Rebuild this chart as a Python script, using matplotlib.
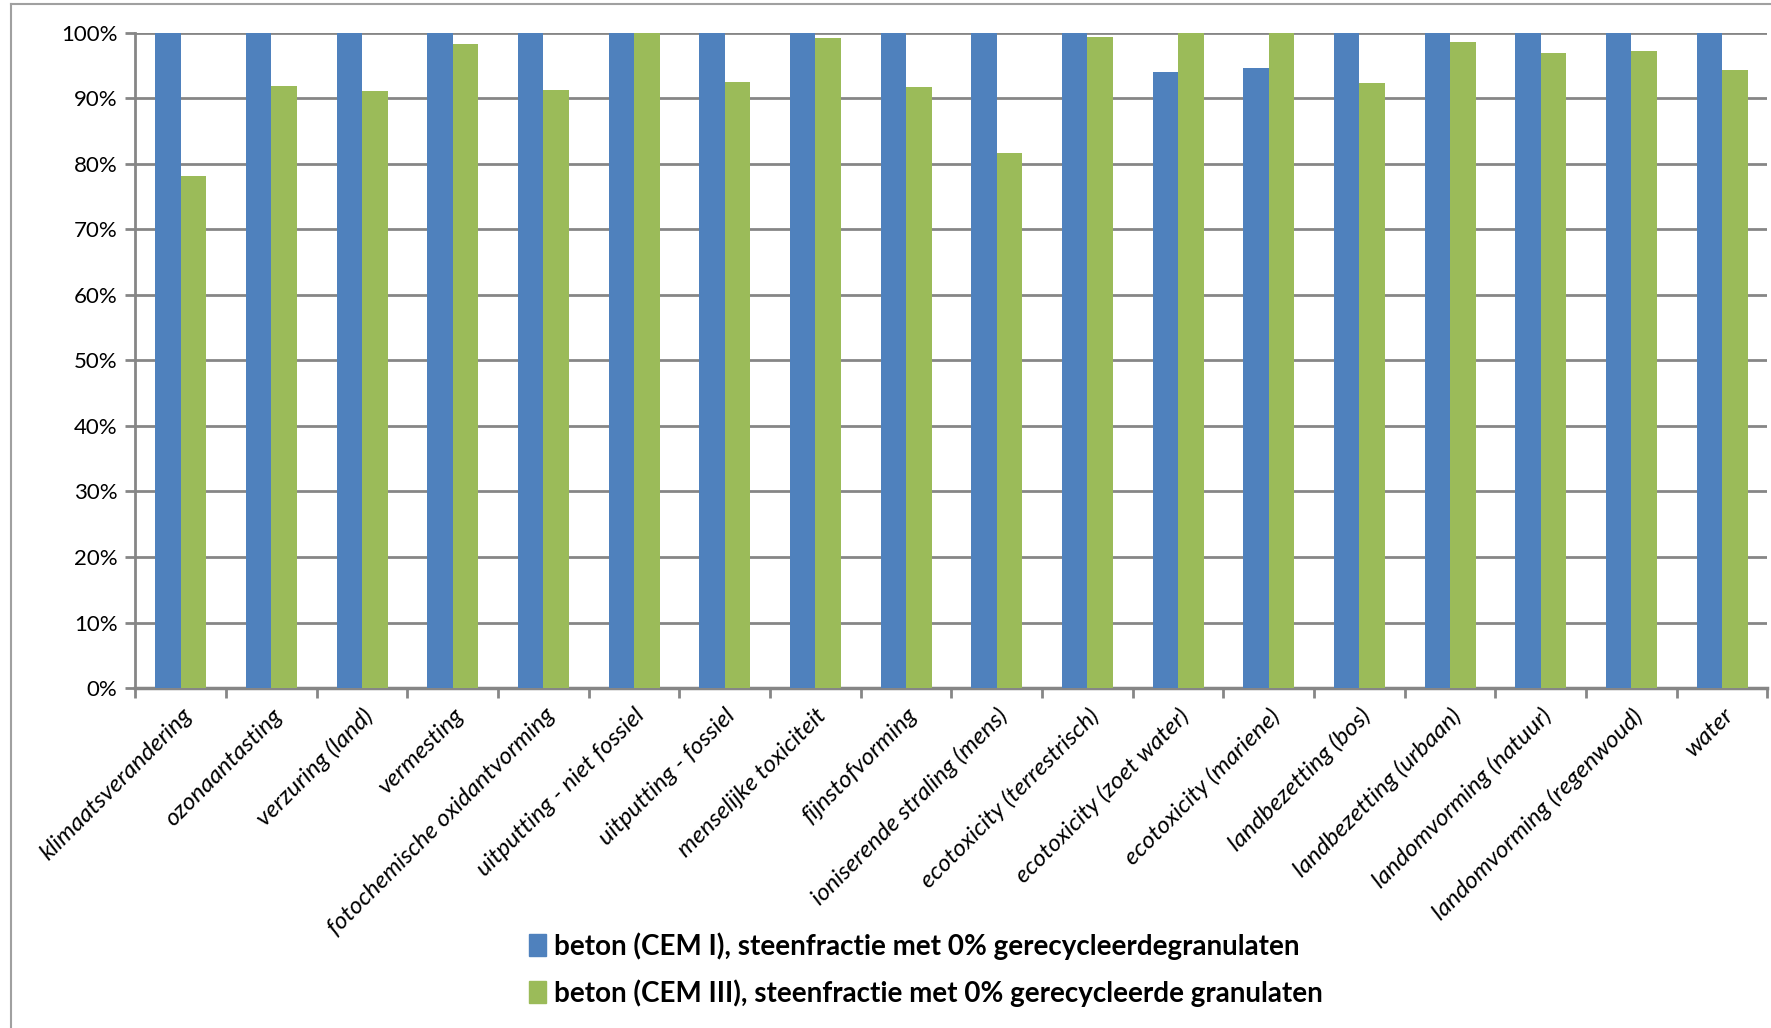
import numpy as np
import matplotlib
matplotlib.use("Agg")
import matplotlib.pyplot as plt
from matplotlib.ticker import FixedLocator
from matplotlib.lines import Line2D

plt.rcParams['font.family'] = ['Lato', 'DejaVu Sans']

categories = [
    'klimaatsverandering', 'ozonaantasting', 'verzuring (land)', 'vermesting',
    'fotochemische oxidantvorming', 'uitputting - niet fossiel', 'uitputting - fossiel',
    'menselijke toxiciteit', 'fijnstofvorming', 'ioniserende straling (mens)',
    'ecotoxicity (terrestrisch)', 'ecotoxicity (zoet water)', 'ecotoxicity (mariene)',
    'landbezetting (bos)', 'landbezetting (urbaan)', 'landomvorming (natuur)',
    'landomvorming (regenwoud)', 'water',
]
cem1 = [100, 100, 100, 100, 100, 100, 100, 100, 100, 100,
        100, 94.0, 94.6, 100, 100, 100, 100, 100]
cem3 = [78.2, 91.9, 91.2, 98.3, 91.3, 100, 92.5, 99.2, 91.7, 81.7,
        99.4, 100, 100, 92.3, 98.6, 96.9, 97.2, 94.4]
series_names = [
    'beton (CEM I), steenfractie met 0% gerecycleerdegranulaten',
    'beton (CEM III), steenfractie met 0% gerecycleerde granulaten',
]

blue = '#4F81BD'
green = '#9BBB59'
grid_grey = '#868686'

fig = plt.figure(figsize=(17.71, 10.28), dpi=100)
ax = fig.add_axes([0.0765, 0.3307, 0.9215, 0.6373])

x = np.arange(len(categories))
w = 0.28
ax.bar(x - w / 2, cem1, width=w, color=blue, zorder=3)
ax.bar(x + w / 2, cem3, width=w, color=green, zorder=3)

ax.set_xlim(-0.5, len(categories) - 0.5)
ax.set_ylim(0, 100)
ax.set_yticks(np.arange(0, 101, 10))
ax.set_yticklabels([f'{v}%' for v in range(0, 101, 10)], fontsize=16)
ax.yaxis.grid(True, color=grid_grey, linewidth=2)
ax.set_axisbelow(True)

# category labels at the centres, tick marks at the group boundaries
ax.set_xticks(x)
ax.set_xticklabels(categories, rotation=45, ha='right', rotation_mode='anchor',
                   fontsize=17.5, style='italic')
ax.xaxis.set_minor_locator(FixedLocator(np.arange(-0.5, len(categories), 1.0)))
ax.tick_params(axis='x', which='major', length=0, pad=12)
ax.tick_params(axis='x', which='minor', length=7, width=2, color=grid_grey)
ax.tick_params(axis='y', length=7, width=2, color=grid_grey, pad=6)

for side in ('top', 'right'):
    ax.spines[side].set_visible(False)
ax.spines['left'].set_color(grid_grey)
ax.spines['left'].set_linewidth(2)
ax.spines['bottom'].set_color(grid_grey)
ax.spines['bottom'].set_linewidth(2.5)

handles = [plt.Rectangle((0, 0), 1, 1, color=blue),
           plt.Rectangle((0, 0), 1, 1, color=green)]
fig.legend(handles, series_names, loc='center', bbox_to_anchor=(0.523, 0.057),
           frameon=False, prop={'weight': 'bold', 'size': 20},
           handlelength=0.6, handleheight=0.8, handletextpad=0.3, labelspacing=0.7)

# chart area border
fig.add_artist(Line2D([11 / 1771, 11 / 1771], [0, 1 - 3.5 / 1028], transform=fig.transFigure,
                      color='#A0A0A0', linewidth=1.5))
fig.add_artist(Line2D([11 / 1771, 1], [1 - 3.5 / 1028, 1 - 3.5 / 1028], transform=fig.transFigure,
                      color='#A0A0A0', linewidth=1.5))

fig.savefig('out.png', dpi=100)
